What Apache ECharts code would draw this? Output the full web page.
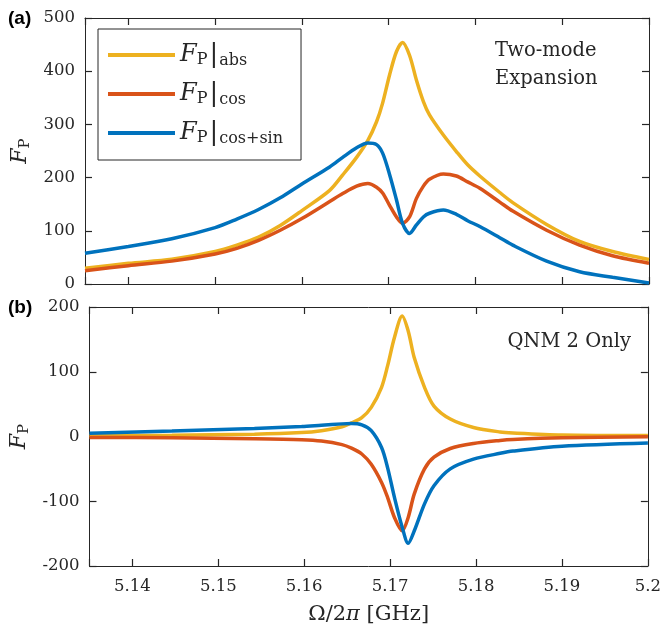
<!DOCTYPE html>
<html lang="en">
<head>
<meta charset="UTF-8">
<title>Purcell factor</title>
<script src="https://cdn.jsdelivr.net/npm/echarts@6.0.0/dist/echarts.min.js"></script>
<style>
html,body{margin:0;padding:0;background:#fff;}
#main{width:664px;height:631px;}
</style>
</head>
<body>
<div id="main"></div>
<script>
// (a) two-mode expansion
var xA = [5.135, 5.14, 5.145, 5.15, 5.1525, 5.155, 5.1575, 5.16, 5.1632, 5.1647, 5.1663, 5.1676, 5.1686, 5.1693,
          5.1701, 5.1709, 5.1716, 5.1724, 5.1732, 5.174, 5.1747, 5.1763, 5.1778, 5.1791, 5.1805, 5.1828, 5.1843,
          5.1882, 5.192, 5.1958, 5.2];
var absA = [29.5, 38.8, 46.4, 61, 73, 88, 110, 138, 176, 205, 238, 270, 305, 340,
            393, 437, 454, 430, 383, 343, 318, 280, 249, 224, 203, 172, 153,
            112, 80, 61, 46];
var cosA = [25, 34.4, 43, 56.4, 67, 82, 101, 123, 155, 170, 184, 189, 182, 171,
            148, 126, 114, 126, 161, 184, 197, 207, 203, 192, 180, 154, 137,
            101, 73, 53, 39];
var csA = [57.7, 70.5, 85, 106, 122, 140, 162, 188, 220, 238, 256, 265, 262, 246,
           206, 158, 114, 95, 111, 126, 133, 139, 131, 119, 108, 87, 73,
           43, 23, 12.6, 2];

// (b) QNM 2 only
var xB = [5.135, 5.1446, 5.1542, 5.1597, 5.162, 5.1644, 5.1655, 5.1667, 5.1678, 5.169, 5.1697, 5.1705,
          5.1714, 5.1721, 5.1728, 5.174, 5.1751, 5.177, 5.1797, 5.1828, 5.1843, 5.19, 5.2];
var absB = [1.5, 2, 3.5, 6, 9, 15, 21, 29, 45, 76, 109, 153,
            186, 163, 122, 76, 47, 27, 14, 7, 5.5, 2.5, 1.5];
var cosB = [-1.5, -2, -3.5, -5, -7, -12.5, -18, -27, -43, -71, -94, -125,
            -145.6, -125, -89, -50, -32, -18.5, -10.8, -6, -4.5, -2, -0.5];
var csB = [5, 8.5, 12.5, 15.5, 17.5, 19.5, 20, 18, 9, -17, -48, -94,
           -140, -165, -146, -104, -76, -50, -35, -26, -22.5, -15, -10];

var names = ['abs', 'cos', 'cos+sin'];
var colors = ['#EDB120', '#D95319', '#0072BD'];
var serif = 'DejaVu Serif';
var ink = '#262626';

function pairs(xs, ys) {
    return xs.map(function (x, i) { return [x, ys[i]]; });
}

function xAx(grid, pos, showLabel) {
    return {
        type: 'value', gridIndex: grid, position: pos,
        min: 5.135, max: 5.2, splitNumber: 6,
        axisLine: {show: true, onZero: false, lineStyle: {color: ink, width: 1}},
        axisTick: {show: true, inside: true, length: 7, lineStyle: {color: ink, width: 1.2}},
        splitLine: {show: false},
        axisLabel: {
            show: showLabel, margin: 12, color: ink, fontFamily: serif, fontSize: 16.5,
            formatter: function (v) {
                if (Math.abs(v - 5.135) < 1e-6) return '';
                return String(Math.round(v * 100) / 100);
            }
        }
    };
}

function yAx(grid, pos, min, max, showLabel) {
    return {
        type: 'value', gridIndex: grid, position: pos,
        min: min, max: max, interval: 100,
        axisLine: {show: true, onZero: false, lineStyle: {color: ink, width: 1}},
        axisTick: {show: true, inside: true, length: 7, lineStyle: {color: ink, width: 1.2}},
        splitLine: {show: false},
        axisLabel: {show: showLabel, margin: 10, color: ink, fontFamily: serif, fontSize: 16.5}
    };
}

var fpName = {
    rich: {
        f: {fontFamily: serif, fontStyle: 'italic', fontSize: 22, color: ink},
        p: {fontFamily: serif, fontSize: 15, color: ink, padding: [10, 0, 0, 0]}
    }
};

var xAxes = [xAx(0, 'bottom', false), xAx(0, 'top', false), xAx(1, 'bottom', true), xAx(1, 'top', false)];
xAxes[2].name = '{n|Ω/2}{pi|π}{n| [GHz]}';
xAxes[2].nameLocation = 'middle';
xAxes[2].nameGap = 38;
xAxes[2].nameTextStyle = {
    rich: {
        n: {fontFamily: serif, fontSize: 21, color: ink},
        pi: {fontFamily: serif, fontStyle: 'italic', fontSize: 21, color: ink}
    }
};

var yAxes = [yAx(0, 'left', 0, 500, true), yAx(0, 'right', 0, 500, false),
             yAx(1, 'left', -200, 200, true), yAx(1, 'right', -200, 200, false)];
[0, 2].forEach(function (i) {
    yAxes[i].name = '{f|F}{p|P}';
    yAxes[i].nameLocation = 'middle';
    yAxes[i].nameRotate = 90;
    yAxes[i].nameGap = 46;
    yAxes[i].nameTextStyle = fpName;
});

var series = [];
[[absA, cosA, csA], [absB, cosB, csB]].forEach(function (set, g) {
    var xs = g === 0 ? xA : xB;
    set.forEach(function (ys, k) {
        series.push({
            name: names[k], type: 'line',
            xAxisIndex: g * 2, yAxisIndex: g * 2,
            data: pairs(xs, ys),
            symbol: 'none', smooth: 0.3,
            lineStyle: {color: colors[k], width: 3.5},
            itemStyle: {color: colors[k]},
            z: 2 + k
        });
    });
});

var chart = echarts.init(document.getElementById('main'));
chart.setOption({
    animation: false,
    backgroundColor: '#fff',
    grid: [
        {left: 85, right: 15, top: 18, height: 266},
        {left: 85, right: 15, top: 307, height: 259}
    ],
    xAxis: xAxes,
    yAxis: yAxes,
    legend: {
        orient: 'vertical', left: 98, top: 29,
        padding: [13, 18, 13, 10], itemGap: 12,
        borderColor: ink, borderWidth: 1,
        icon: 'rect', itemWidth: 67, itemHeight: 4,
        data: names,
        formatter: function (n) { return '{f|F}{p|P}{bar||}{s|' + n + '}'; },
        textStyle: {
            rich: {
                f: {fontFamily: serif, fontStyle: 'italic', fontSize: 24, color: ink},
                p: {fontFamily: serif, fontSize: 16, color: ink, padding: [10, 0, 0, 0]},
                bar: {fontFamily: serif, fontSize: 26, color: ink, padding: [0, 1, 0, 2]},
                s: {fontFamily: serif, fontSize: 16, color: ink, padding: [12, 0, 0, 0]}
            }
        }
    },
    graphic: [
        {type: 'text', left: 8, top: 9, style: {text: '(a)', fontFamily: 'Liberation Sans', fontWeight: 'bold', fontSize: 19, fill: '#000'}},
        {type: 'text', left: 8, top: 298, style: {text: '(b)', fontFamily: 'Liberation Sans', fontWeight: 'bold', fontSize: 19, fill: '#000'}},
        {type: 'text', left: 495, top: 37, style: {text: 'Two-mode\nExpansion', fontFamily: serif, fontSize: 19.5, lineHeight: 28, fill: ink}},
        {type: 'text', right: 33, top: 332, style: {text: 'QNM 2 Only', fontFamily: serif, fontSize: 19.5, fill: ink}}
    ],
    series: series
});
</script>
</body>
</html>
